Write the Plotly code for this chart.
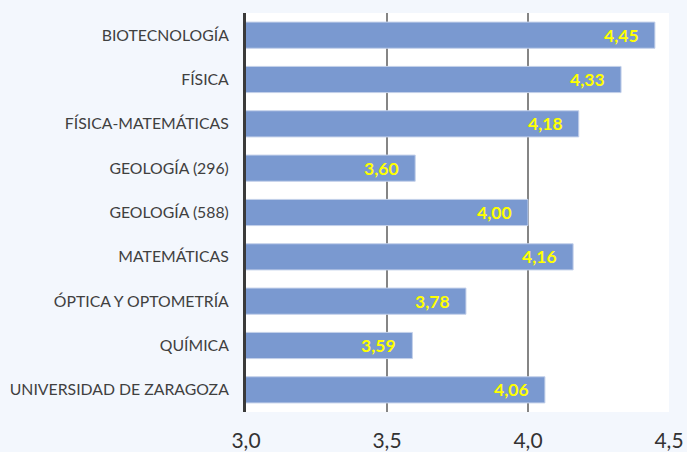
import plotly.graph_objects as go

categories = ["BIOTECNOLOGÍA", "FÍSICA", "FÍSICA-MATEMÁTICAS", "GEOLOGÍA (296)",
              "GEOLOGÍA (588)", "MATEMÁTICAS", "ÓPTICA Y OPTOMETRÍA", "QUÍMICA",
              "UNIVERSIDAD DE ZARAGOZA"]
values = [4.45, 4.33, 4.18, 3.60, 4.00, 4.16, 3.78, 3.59, 4.06]
tick_vals = [3.0, 3.5, 4.0, 4.5]
tick_text = ["3,0", "3,5", "4,0", "4,5"]
labels = [f"{v:.2f}".replace(".", ",") for v in values]

fig = go.Figure(go.Bar(
    x=values, y=categories, orientation="h", base=0,
    marker=dict(color="#7A99D0", line=dict(color="#C3D0EA", width=1)),
    hoverinfo="skip",
))

for c, v, t in zip(categories, values, labels):
    fig.add_annotation(
        x=v, y=c, text=t, showarrow=False, xanchor="right", xshift=-14,
        font=dict(color="#FFFF00", size=17.5, family="Lato", weight="bold"),
    )

fig.update_layout(
    width=687, height=452,
    margin=dict(l=246, r=18, t=13, b=40),
    paper_bgcolor="#F3F7FD", plot_bgcolor="#FFFFFF",
    bargap=0.41, showlegend=False,
    font=dict(family="Lato", color="#404040"),
)
fig.update_xaxes(
    range=[3.0, 4.5], tickvals=tick_vals, ticktext=tick_text,
    showgrid=True, gridcolor="#858585", gridwidth=2,
    zeroline=False, showline=False, ticks="", automargin=False,
    tickfont=dict(size=21, color="#333333"), ticklabelstandoff=14,
)
fig.update_yaxes(
    autorange="reversed", showline=True, linecolor="#3A3A3A", linewidth=3,
    ticks="", tickfont=dict(size=15.8, color="#404040"), ticklabelstandoff=11,
    showgrid=False, automargin=False,
)
fig.write_html(
    "out.html",
    config={"displayModeBar": False},
    post_script="document.body.style.margin='0';document.body.style.background='#F3F7FD';",
)
